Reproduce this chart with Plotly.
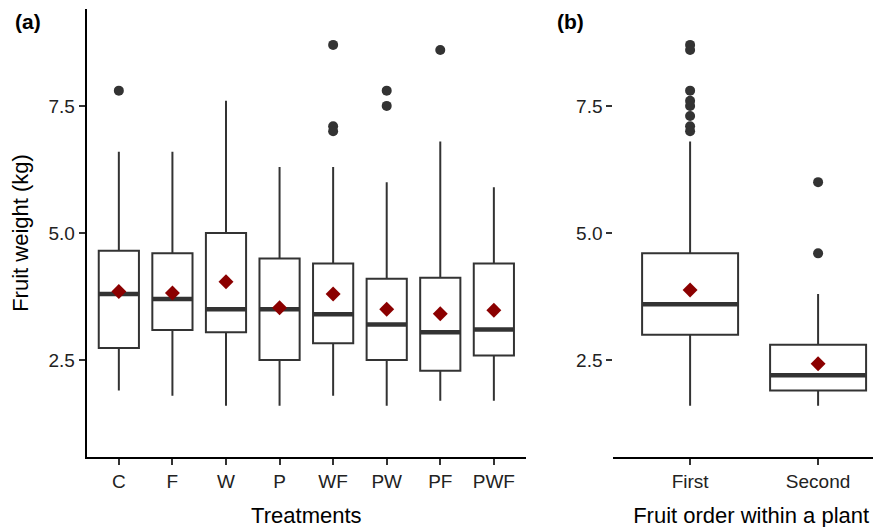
import plotly.graph_objects as go

# ---- Panel (a): treatments ----
treatments = ["C", "F", "W", "P", "WF", "PW", "PF", "PWF"]
a_lower = [1.9, 1.8, 1.6, 1.6, 1.8, 1.6, 1.7, 1.7]
a_q1 = [2.74, 3.09, 3.05, 2.5, 2.83, 2.5, 2.29, 2.59]
a_median = [3.8, 3.7, 3.5, 3.5, 3.4, 3.2, 3.05, 3.1]
a_q3 = [4.65, 4.6, 5.0, 4.5, 4.4, 4.1, 4.12, 4.4]
a_upper = [6.6, 6.6, 7.6, 6.3, 6.3, 6.0, 6.8, 5.9]
a_mean = [3.85, 3.82, 4.04, 3.53, 3.8, 3.5, 3.41, 3.48]
a_outlier_group = ["C", "WF", "WF", "WF", "PW", "PW", "PF"]
a_outlier_value = [7.8, 8.7, 7.1, 7.0, 7.8, 7.5, 8.6]

# ---- Panel (b): fruit order ----
orders = ["First", "Second"]
b_lower = [1.6, 1.6]
b_q1 = [3.0, 1.9]
b_median = [3.6, 2.2]
b_q3 = [4.6, 2.8]
b_upper = [6.8, 3.8]
b_mean = [3.88, 2.43]
b_outlier_group = ["First"] * 8 + ["Second"] * 2
b_outlier_value = [8.7, 8.6, 7.8, 7.6, 7.5, 7.3, 7.1, 7.0, 6.0, 4.6]

y_ticks = [2.5, 5.0, 7.5]
y_ticktext = ["2.5", "5.0", "7.5"]

LINE = "#333333"
MEAN = "#8B0000"
BOX_W = 0.75
FONT = "Liberation Sans, Arial, sans-serif"

fig = go.Figure()


def add_panel(cats, lower, q1, med, q3, upper, mean, og, ov, xa, ya):
    pos = list(range(1, len(cats) + 1))
    fig.add_trace(go.Box(
        x=pos, q1=q1, median=med, q3=q3, lowerfence=lower, upperfence=upper,
        boxpoints=False, width=BOX_W, whiskerwidth=0,
        fillcolor="white", line=dict(color=LINE, width=2),
        xaxis=xa, yaxis=ya, showlegend=False, hoverinfo="skip"))
    mx, my = [], []
    for p, m in zip(pos, med):
        mx += [p - BOX_W / 2, p + BOX_W / 2, None]
        my += [m, m, None]
    fig.add_trace(go.Scatter(x=mx, y=my, mode="lines",
                             line=dict(color=LINE, width=4.5),
                             xaxis=xa, yaxis=ya, showlegend=False, hoverinfo="skip"))
    idx = {c: i + 1 for i, c in enumerate(cats)}
    fig.add_trace(go.Scatter(x=[idx[g] for g in og], y=ov, mode="markers",
                             marker=dict(color=LINE, size=10),
                             xaxis=xa, yaxis=ya, showlegend=False))
    fig.add_trace(go.Scatter(x=pos, y=mean, mode="markers",
                             marker=dict(color=MEAN, size=11.5, symbol="diamond"),
                             xaxis=xa, yaxis=ya, showlegend=False))


add_panel(treatments, a_lower, a_q1, a_median, a_q3, a_upper, a_mean,
          a_outlier_group, a_outlier_value, "x", "y")
add_panel(orders, b_lower, b_q1, b_median, b_q3, b_upper, b_mean,
          b_outlier_group, b_outlier_value, "x2", "y2")

W, H = 881, 527
OFF = 8  # page body margin of the browser
ytop, ybot = 9.3 - OFF, 456.7 - OFF
ydom = [1 - ybot / H, 1 - ytop / H]
xa0, xa1 = 86.7 - OFF, 526 - OFF
xb0, xb1 = 613.3 - OFF, W

tickfont = dict(family=FONT, size=19, color="#222222")
titlefont = dict(family=FONT, size=22, color="#000000")

common_y = dict(range=[0.6, 9.4], tickvals=y_ticks, ticktext=y_ticktext,
                ticks="outside", ticklen=6, tickwidth=2, tickcolor=LINE,
                tickfont=tickfont, showgrid=False, zeroline=False, domain=ydom,
                automargin=False)

fig.update_layout(
    width=W, height=H,
    margin=dict(l=0, r=0, t=0, b=0),
    paper_bgcolor="white", plot_bgcolor="white",
    showlegend=False,
    xaxis=dict(domain=[xa0 / W, xa1 / W], range=[0.4, 8.6],
               tickvals=list(range(1, len(treatments) + 1)), ticktext=treatments,
               ticks="outside", ticklen=6, tickwidth=2, tickcolor=LINE,
               tickfont=tickfont, showgrid=False, zeroline=False,
               showline=True, linecolor="black", linewidth=2, automargin=False,
               title=dict(text="Treatments", font=titlefont, standoff=17),
               anchor="y"),
    yaxis=dict(**common_y, showline=True, linecolor="black", linewidth=2,
               anchor="x",
               title=dict(text="Fruit weight (kg)", font=titlefont, standoff=14)),
    xaxis2=dict(domain=[xb0 / W, xb1 / W], range=[0.4, 2.554],
                tickvals=list(range(1, len(orders) + 1)), ticktext=orders,
                ticks="outside", ticklen=6, tickwidth=2, tickcolor=LINE,
                tickfont=tickfont, showgrid=False, zeroline=False,
                showline=True, linecolor="black", linewidth=2, automargin=False,
                title=dict(text="Fruit order within a plant", font=titlefont, standoff=17),
                anchor="y2"),
    yaxis2=dict(**common_y, showline=False, anchor="x2"),
    annotations=[
        dict(text="<b>(a)</b>", x=(13 - OFF) / W, y=1 - (21.7 - OFF) / H,
             xref="paper", yref="paper", xanchor="left", yanchor="middle",
             showarrow=False, font=dict(family=FONT, size=21, color="black")),
        dict(text="<b>(b)</b>", x=(555 - OFF) / W, y=1 - (21.7 - OFF) / H,
             xref="paper", yref="paper", xanchor="left", yanchor="middle",
             showarrow=False, font=dict(family=FONT, size=21, color="black")),
    ],
)

fig.write_html("out.html")
